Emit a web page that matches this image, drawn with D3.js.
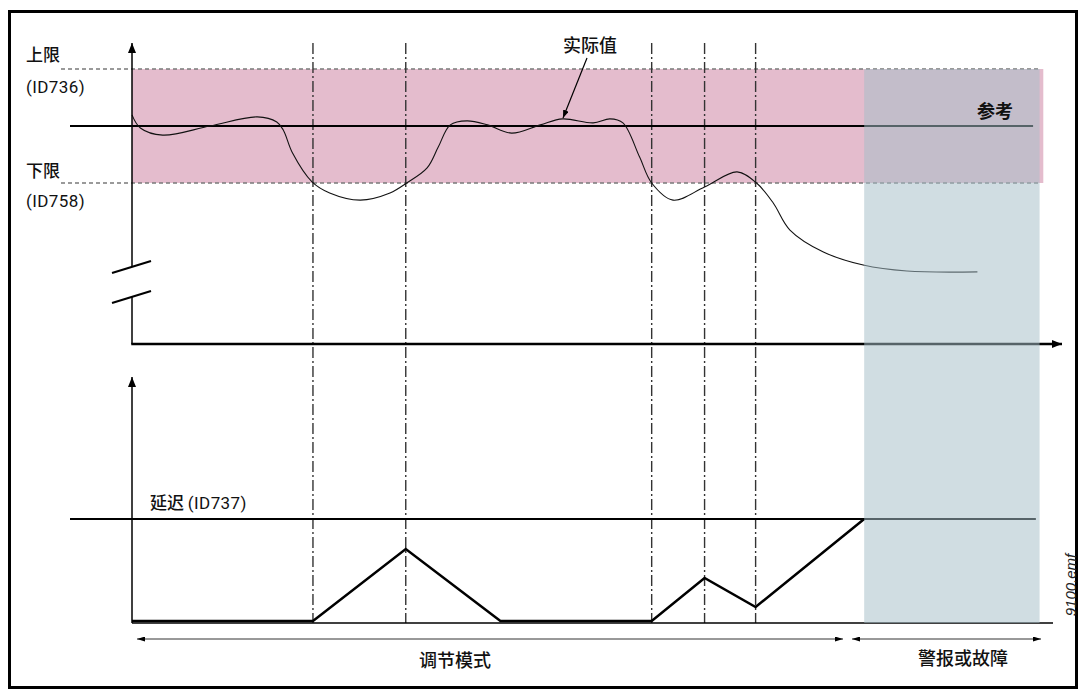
<!DOCTYPE html>
<html>
<head>
<meta charset="utf-8">
<script src="https://cdn.jsdelivr.net/npm/d3@7"></script>
<style>
  body { margin: 0; background: #fff; }
  svg { display: block; }
  .cjk { font-family: "Noto Sans CJK SC", sans-serif; }
  .lat { font-family: Roboto, "Liberation Sans", sans-serif; letter-spacing: 0.4px; }
</style>
</head>
<body>
<div id="chart"></div>
<script>
const width = 1082, height = 691

// limits of the actual value (top plot units)
const limits = { upper: 70, reference: 50, lower: 30 }
const delayLimit = 100

// times where the dash-dot markers stand
const markerTimes = [19.5, 29.5, 56.0, 61.7, 67.2]
const alarmStart = 78.9, alarmEnd = 97.8

// actual value curve [time, value]
const actualT = [0, 0.9, 3.3, 8.4, 13.5, 15.6, 16.3, 17.3, 19.4, 21.3, 24.6, 27.8, 29.6, 31.8, 33.0, 34.3, 36.1, 38.3, 40.9, 44.0, 46.4, 49.7, 51.5, 52.9, 54.7, 56.0, 58.3, 61.7, 65.2, 67.3, 69.1, 70.9, 74.5, 78.8, 83.5, 91.1]
const actualV = [53.9, 49.3, 46.8, 50, 53.2, 51.4, 48.6, 40.5, 30.4, 26.5, 24.0, 26.5, 30, 35.3, 42.6, 50.4, 51.8, 50.4, 47.5, 50.4, 52.5, 51.1, 52.5, 51.1, 39.1, 30, 24.0, 28.6, 33.9, 30, 23.0, 13.5, 5.8, 1.2, -0.9, -1.2]

// delay counter [time, value]
const delayT = [0, 19.5, 29.5, 39.7, 56.0, 61.7, 67.2, 78.9]
const delayV = [0, 0, 70.6, 0, 0, 42.2, 13.7, 100]

const labels = {
  upper: "上限", upperId: "(ID736)",
  lower: "下限", lowerId: "(ID758)",
  actual: "实际值", reference: "参考",
  delay: "延迟", delayId: "(ID737)",
  regulating: "调节模式", alarm: "警报或故障",
  file: "9100.emf"
}

let svg = d3.select("#chart").append("svg")
  .attr("width", width)
  .attr("height", height)

const x = d3.scaleLinear().domain([0, 100]).range([132, 1060])
const yTop = d3.scaleLinear().domain([30, 70]).range([183, 69])
const yBot = d3.scaleLinear().domain([0, 100]).range([621, 519])

const axisTop = 344, axisBot = 623, arrowY = 639

let defs = svg.append("defs")
function head(id, w, h) {
  defs.append("marker")
    .attr("id", id)
    .attr("viewBox", `0 0 ${w} ${h}`)
    .attr("refX", w).attr("refY", h / 2)
    .attr("markerWidth", w).attr("markerHeight", h)
    .attr("markerUnits", "userSpaceOnUse")
    .attr("orient", "auto-start-reverse")
    .append("path")
    .attr("d", `M0,0L${w},${h / 2}L0,${h}Z`)
    .attr("fill", "#000")
}
head("ax", 10, 8)
head("sm", 8, 5)
head("ann", 8, 6)

// frame
svg.append("rect")
  .attr("x", 9.5).attr("y", 11.5)
  .attr("width", 1067).attr("height", 676)
  .attr("fill", "none").attr("stroke", "#000").attr("stroke-width", 3)

// pink band
svg.append("rect")
  .attr("x", x(0)).attr("y", yTop(limits.upper))
  .attr("width", x(98.2) - x(0))
  .attr("height", yTop(limits.lower) - yTop(limits.upper))
  .attr("fill", "#e4bccd")

// limit dashes
for (const v of [limits.upper, limits.lower]) {
  svg.append("line")
    .attr("x1", 61).attr("x2", x(alarmEnd))
    .attr("y1", yTop(v)).attr("y2", yTop(v))
    .attr("stroke", "#7a7a7a").attr("stroke-width", 1.5)
    .attr("stroke-dasharray", "4,3")
}

// marker lines
svg.selectAll(".mk").data(markerTimes).enter().append("line")
  .attr("class", "mk")
  .attr("x1", d => x(d)).attr("x2", d => x(d))
  .attr("y1", 43).attr("y2", axisBot)
  .attr("stroke", "#333").attr("stroke-width", 1.4)
  .attr("stroke-dasharray", "11,3,2,3")

// reference line
svg.append("line")
  .attr("x1", 70).attr("x2", x(97.1))
  .attr("y1", yTop(limits.reference)).attr("y2", yTop(limits.reference))
  .attr("stroke", "#000").attr("stroke-width", 2)

// delay line
svg.append("line")
  .attr("x1", 70).attr("x2", x(97.4))
  .attr("y1", yBot(delayLimit)).attr("y2", yBot(delayLimit))
  .attr("stroke", "#000").attr("stroke-width", 2)

// actual value
const actual = actualT.map((t, i) => [t, actualV[i]])
svg.append("path")
  .datum(actual)
  .attr("fill", "none").attr("stroke", "#111").attr("stroke-width", 1.1)
  .attr("d", d3.line().x(d => x(d[0])).y(d => yTop(d[1])).curve(d3.curveCatmullRom.alpha(0.5)))

// delay counter
const delay = delayT.map((t, i) => [t, delayV[i]])
svg.append("path")
  .datum(delay)
  .attr("fill", "none").attr("stroke", "#000").attr("stroke-width", 2.5)
  .attr("stroke-linejoin", "miter")
  .attr("d", d3.line().x(d => x(d[0])).y(d => yBot(d[1])))

// axes top
svg.append("line").attr("x1", x(0)).attr("x2", x(0))
  .attr("y1", 267).attr("y2", 43)
  .attr("stroke", "#000").attr("stroke-width", 1.5).attr("marker-end", "url(#ax)")
svg.append("line").attr("x1", x(0)).attr("x2", x(0))
  .attr("y1", 297).attr("y2", axisTop)
  .attr("stroke", "#000").attr("stroke-width", 1.5)
svg.append("line").attr("x1", x(0) - 0.75).attr("x2", 1062)
  .attr("y1", axisTop).attr("y2", axisTop)
  .attr("stroke", "#000").attr("stroke-width", 2.5).attr("marker-end", "url(#ax)")
// break marks
for (const b of [267, 297]) {
  svg.append("line")
    .attr("x1", 112).attr("y1", b + 6).attr("x2", 151).attr("y2", b - 6)
    .attr("stroke", "#000").attr("stroke-width", 2)
}

// axes bottom
svg.append("line").attr("x1", x(0)).attr("x2", x(0))
  .attr("y1", axisBot).attr("y2", 377)
  .attr("stroke", "#000").attr("stroke-width", 1.5).attr("marker-end", "url(#ax)")
svg.append("line").attr("x1", x(0)).attr("x2", 1053)
  .attr("y1", axisBot).attr("y2", axisBot)
  .attr("stroke", "#000").attr("stroke-width", 1.5)

// alarm region (translucent over the marks)
svg.append("rect")
  .attr("x", x(alarmStart)).attr("y", yTop(limits.upper))
  .attr("width", x(alarmEnd) - x(alarmStart))
  .attr("height", axisBot - yTop(limits.upper))
  .attr("fill", "#a4bdc7").attr("fill-opacity", 0.52)

// span arrows
svg.append("line").attr("x1", 137).attr("x2", 843)
  .attr("y1", arrowY).attr("y2", arrowY)
  .attr("stroke", "#333").attr("stroke-width", 1)
  .attr("marker-start", "url(#sm)").attr("marker-end", "url(#sm)")
svg.append("line").attr("x1", 852).attr("x2", 1041)
  .attr("y1", arrowY).attr("y2", arrowY)
  .attr("stroke", "#333").attr("stroke-width", 1)
  .attr("marker-start", "url(#sm)").attr("marker-end", "url(#sm)")

// annotation arrow
svg.append("line").attr("x1", 587).attr("y1", 58).attr("x2", 563).attr("y2", 118)
  .attr("stroke", "#000").attr("stroke-width", 1.2).attr("marker-end", "url(#ann)")

// texts
function txt(s, xx, yy, cls, size, opts = {}) {
  return svg.append("text")
    .attr("class", cls)
    .attr("x", xx).attr("y", yy)
    .attr("font-size", size)
    .attr("font-weight", opts.weight || "normal")
    .attr("text-anchor", opts.anchor || "start")
    .attr("fill", "#111")
    .text(s)
}
txt(labels.upper, 26, 61, "cjk", 17, { weight: 500 })
txt(labels.upperId, 26, 93, "lat", 17)
txt(labels.lower, 26, 177, "cjk", 17, { weight: 500 })
txt(labels.lowerId, 26, 207, "lat", 17)
txt(labels.actual, 590, 52, "cjk", 18, { anchor: "middle", weight: 500 })
txt(labels.reference, 995, 118, "cjk", 18, { anchor: "middle", weight: "bold" })
svg.append("text").attr("x", 150).attr("y", 509).attr("fill", "#111")
  .call(t => {
    t.append("tspan").attr("class", "cjk").attr("font-size", 17).attr("font-weight", 500).text(labels.delay + " ")
    t.append("tspan").attr("class", "lat").attr("font-size", 17).text(labels.delayId)
  })
txt(labels.regulating, 455, 667, "cjk", 18, { anchor: "middle", weight: 500 })
txt(labels.alarm, 963, 665, "cjk", 18, { anchor: "middle", weight: 500 })
svg.append("text")
  .attr("transform", "translate(1076,585) rotate(-90)")
  .attr("text-anchor", "middle")
  .attr("font-family", "Liberation Sans, sans-serif")
  .attr("font-style", "italic")
  .attr("font-size", 15)
  .attr("fill", "#222")
  .text(labels.file)
</script>
</body>
</html>
